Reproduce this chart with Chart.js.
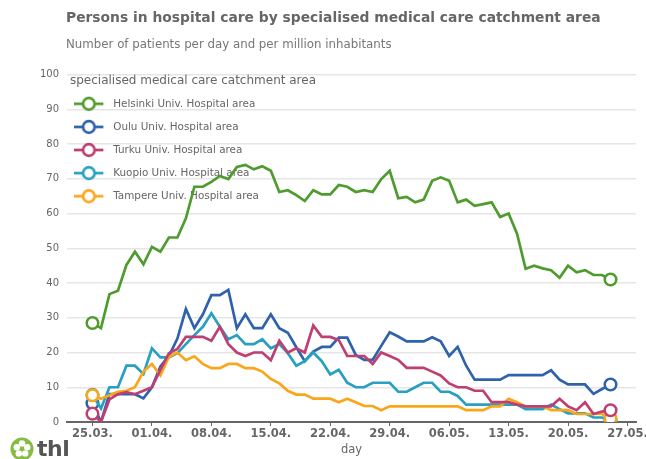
<!DOCTYPE html>
<html>
<head>
<meta charset="utf-8">
<script src="https://cdn.jsdelivr.net/npm/chart.js@4"></script>
<style>
  html, body { margin: 0; padding: 0; width: 646px; height: 459px; overflow: hidden; background: #fff; font-family: "DejaVu Sans", sans-serif; }
  #grafico { position: absolute; left: 0; top: 0; }
  .titulo { position: absolute; left: 66px; top: 9px; font-size: 13.85px; font-weight: bold; color: #666; white-space: nowrap; }
  .subtitulo { position: absolute; left: 66px; top: 37px; font-size: 11.8px; color: #777; white-space: nowrap; }
  .logo { position: absolute; left: 10px; top: 437px; }
  .thl { position: absolute; left: 37px; top: 436px; font-size: 22px; font-weight: bold; color: #555; letter-spacing: -0.5px; }
</style>
</head>
<body>
<canvas id="grafico" width="676" height="459" style="width:676px;height:459px"></canvas>
<div class="titulo">Persons in hospital care by specialised medical care catchment area</div>
<div class="subtitulo">Number of patients per day and per million inhabitants</div>
<svg class="logo" width="24" height="24" viewBox="0 0 24 24">
  <circle cx="12" cy="12" r="11.5" fill="#86bc43"/>
  <g fill="#fff">
    <circle cx="12" cy="6.5" r="3.2"/>
    <circle cx="17.2" cy="10.3" r="3.2"/>
    <circle cx="15.2" cy="16.4" r="3.2"/>
    <circle cx="8.8" cy="16.4" r="3.2"/>
    <circle cx="6.8" cy="10.3" r="3.2"/>
  </g>
  <circle cx="12" cy="12" r="1.6" fill="#86bc43"/>
</svg>
<div class="thl">thl</div>
<script>
const tickDays = [0, 7, 14, 21, 28, 35, 42, 49, 56, 63];
const tickLabels = ['25.03.', '01.04.', '08.04.', '15.04.', '22.04.', '29.04.', '06.05.', '13.05.', '20.05.', '27.05.'];
const yTicks = [0, 10, 20, 30, 40, 50, 60, 70, 80, 90, 100];

const helsinki = [28.5, 27, 36.8, 37.8, 45.2, 49, 45.4, 50.4, 49, 53.1, 53.1, 58.6, 67.7, 67.7, 69.1, 70.8, 69.9, 73.4, 74, 72.7, 73.6, 72.3, 66.2, 66.7, 65.3, 63.6, 66.7, 65.5, 65.5, 68.2, 67.7, 66.2, 66.7, 66.2, 69.9, 72.3, 64.4, 64.8, 63.2, 64, 69.4, 70.4, 69.4, 63.2, 64, 62.2, 62.7, 63.2, 59, 60, 54.1, 44.1, 45, 44.2, 43.7, 41.5, 45, 43.1, 43.7, 42.3, 42.3, 41];
const oulu = [5.4, 0, 8, 8, 8, 8, 6.8, 10, 16, 19, 24, 32.5, 27, 31, 36.5, 36.5, 38, 27, 31, 27, 27, 31, 27, 25.7, 21.5, 17.5, 20.3, 21.6, 21.6, 24.3, 24.3, 19.3, 17.9, 17.9, 21.9, 25.8, 24.6, 23.2, 23.2, 23.2, 24.4, 23.2, 19, 21.6, 16.2, 12.2, 12.2, 12.2, 12.2, 13.5, 13.5, 13.5, 13.5, 13.5, 14.9, 12.2, 10.8, 10.8, 10.8, 8.1, 9.5, 10.8];
const turku = [2.4, 0, 6.5, 8, 8.6, 8, 9, 10, 15, 19.8, 21, 24.5, 24.5, 24.5, 23.4, 27.4, 22.4, 20, 19, 20, 20, 17.8, 23.4, 20, 21.2, 20, 27.8, 24.5, 24.5, 23.6, 19, 19, 19, 16.7, 20, 19, 17.9, 15.6, 15.6, 15.6, 14.5, 13.4, 11.1, 10, 10, 9, 9, 5.7, 5.7, 5.7, 5, 4.5, 4.5, 4.5, 4.5, 6.7, 4.5, 3.4, 5.7, 2.3, 3, 3.4];
const kuopio = [7.8, 3.9, 10, 10, 16.2, 16.2, 13.8, 21.2, 18.6, 18.6, 19.8, 22.4, 25, 27.4, 31.3, 27.4, 23.8, 25, 22.4, 22.4, 23.8, 21.2, 22.4, 19.8, 16.2, 17.5, 20, 17.5, 13.7, 15, 11.3, 10, 10, 11.3, 11.3, 11.3, 8.7, 8.7, 10, 11.3, 11.3, 8.7, 8.7, 7.5, 5, 5, 5, 5, 5, 5, 5, 3.7, 3.7, 3.7, 5, 3.7, 2.5, 2.5, 2.5, 1.3, 1.3, 0.4];
const tampere = [7.7, 6.7, 7.7, 8.7, 9, 10, 14.5, 16.7, 13.4, 18.8, 20, 17.8, 18.9, 16.7, 15.5, 15.5, 16.7, 16.7, 15.5, 15.5, 14.5, 12.4, 11.1, 9, 7.9, 7.9, 6.7, 6.7, 6.7, 5.7, 6.7, 5.7, 4.6, 4.6, 3.4, 4.5, 4.5, 4.5, 4.5, 4.5, 4.5, 4.5, 4.5, 4.5, 3.4, 3.4, 3.4, 4.5, 4.5, 6.7, 5.7, 4.5, 4.5, 4.5, 3.4, 3.4, 3.4, 2.3, 2.3, 2.3, 2.3, 1];

const nomes = ['Helsinki Univ. Hospital area', 'Oulu Univ. Hospital area', 'Turku Univ. Hospital area', 'Kuopio Univ. Hospital area', 'Tampere Univ. Hospital area'];
const series = [helsinki, oulu, turku, kuopio, tampere];
const cores = ['#4f9c2e', '#2f62ad', '#be3f72', '#29a0c1', '#faa61a'];
// ordem de desenho: Turku fica por cima no fim da linha
const ordens = [5, 4, 1, 3, 2];

// simbolo da legenda: linha com circulo, com folga a direita para alinhar com o texto
function simbolo(cor) {
  const c = document.createElement('canvas');
  c.width = 42;
  c.height = 18;
  const g = c.getContext('2d');
  g.strokeStyle = cor;
  g.lineWidth = 2.7;
  g.beginPath();
  g.moveTo(0, 9);
  g.lineTo(29, 9);
  g.stroke();
  g.fillStyle = '#fff';
  g.beginPath();
  g.arc(14.5, 9, 5.8, 0, Math.PI * 2);
  g.fill();
  g.stroke();
  return c;
}
const simbolos = cores.map(simbolo);

new Chart(document.getElementById('grafico'), {
  type: 'line',
  data: {
    datasets: series.map((valores, s) => ({
      label: nomes[s],
      data: valores.map((v, i) => ({ x: i, y: v })),
      borderColor: cores[s],
      backgroundColor: '#fff',
      borderWidth: 2.7,
      tension: 0,
      clip: { left: 20, right: 20, top: 20, bottom: 0 },
      order: ordens[s],
      pointBorderWidth: 2.5,
      pointBackgroundColor: '#fff',
      pointRadius: c => (c.dataIndex === 0 || c.dataIndex === valores.length - 1) ? 5.8 : 0
    }))
  },
  options: {
    responsive: false,
    animation: false,
    layout: { padding: { top: 74.5, right: 40 } },
    plugins: {
      tooltip: { enabled: false },
      legend: {
        position: 'chartArea',
        align: 'start',
        title: {
          display: true,
          position: 'start',
          text: 'specialised medical care catchment area',
          color: '#666',
          font: { size: 12, family: 'DejaVu Sans' },
          padding: { top: 0, bottom: -3 }
        },
        labels: {
          usePointStyle: true,
          pointStyleWidth: 25.3,
          padding: 12.7,
          color: '#666',
          font: { size: 10.4, family: 'DejaVu Sans' },
          sort: (a, b) => a.datasetIndex - b.datasetIndex,
          generateLabels: chart => Chart.defaults.plugins.legend.labels.generateLabels(chart)
            .map(item => ({ ...item, pointStyle: simbolos[item.datasetIndex] }))
        }
      }
    },
    scales: {
      x: {
        type: 'linear',
        min: -3,
        max: 64,
        afterBuildTicks: axis => { axis.ticks = tickDays.map(value => ({ value })); },
        afterFit: axis => { axis.height = 37; },
        grid: { drawOnChartArea: false, color: '#666', tickLength: 4 },
        border: { color: '#666', width: 2 },
        ticks: {
          autoSkip: false,
          maxRotation: 0,
          padding: 1,
          color: '#666',
          font: { size: 11.5, weight: 'bold', family: 'DejaVu Sans' },
          callback: (v, i) => tickLabels[i]
        },
        title: { display: true, text: 'day', color: '#666', font: { size: 11.5, family: 'DejaVu Sans' }, padding: { top: 2, bottom: 2 } }
      },
      y: {
        min: 0,
        max: 100,
        afterBuildTicks: axis => { axis.ticks = yTicks.map(value => ({ value })); },
        afterFit: axis => { axis.width = 67; },
        grid: { color: '#e6e6e6', lineWidth: 1.5, drawTicks: false },
        border: { display: false },
        ticks: {
          padding: 8,
          color: '#666',
          font: { size: 10, family: 'DejaVu Sans' }
        }
      }
    }
  },
  plugins: [{
    id: 'ajusteLegenda',
    afterLayout: chart => {
      const area = chart.chartArea;
      chart.legend.left = area.left + 3;
      chart.legend.right = area.right;
      chart.legend.top = area.top;
      chart.legend.bottom = area.bottom;
    }
  }]
});
</script>
</body>
</html>
